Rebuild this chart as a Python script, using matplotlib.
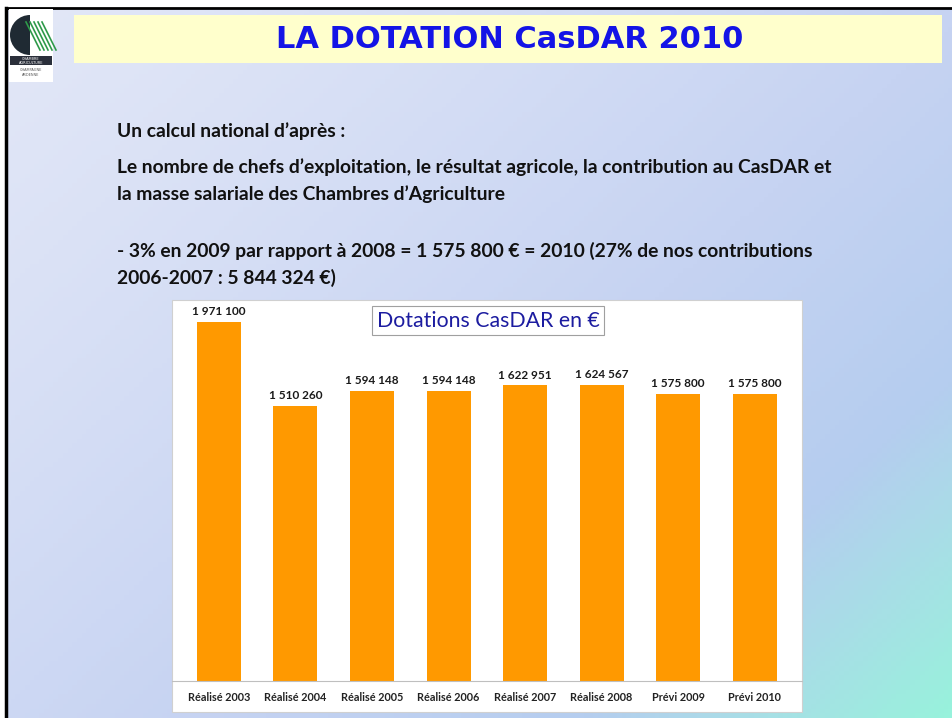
import numpy as np
import matplotlib
matplotlib.use("Agg")
import matplotlib.pyplot as plt
from matplotlib.colors import LinearSegmentedColormap
from matplotlib.patches import Rectangle, Wedge

# data
categories = ["Réalisé 2003", "Réalisé 2004", "Réalisé 2005", "Réalisé 2006",
              "Réalisé 2007", "Réalisé 2008", "Prévi 2009", "Prévi 2010"]
values = [1971100, 1510260, 1594148, 1594148, 1622951, 1624567, 1575800, 1575800]
value_labels = ["1 971 100", "1 510 260", "1 594 148", "1 594 148",
                "1 622 951", "1 624 567", "1 575 800", "1 575 800"]

title = "LA DOTATION CasDAR 2010"
chart_title = "Dotations CasDAR en €"
lines = [
    "Un calcul national d\u2019après :",
    "Le nombre de chefs d\u2019exploitation, le résultat agricole, la contribution au CasDAR et",
    "la masse salariale des Chambres d\u2019Agriculture",
    "- 3% en 2009 par rapport à 2008 = 1 575 800 € = 2010 (27% de nos contributions",
    "2006-2007 : 5 844 324 €)",
]
line_y = [131, 167, 194, 251, 278]

W, H = 953, 718
fig = plt.figure(figsize=(W / 100, H / 100), dpi=100)

# slide background (pixel coordinates)
bg = fig.add_axes([0, 0, 1, 1])
bg.set_xlim(0, W)
bg.set_ylim(H, 0)
bg.axis("off")

cmap = LinearSegmentedColormap.from_list(
    "slide", [(0, "#e2e7f7"), (0.5, "#c6d3f2"), (0.75, "#b5cdef"), (1, "#98f2dc")])
xx, yy = np.meshgrid(np.linspace(0, 1, 200), np.linspace(0, 1, 150))
grad = np.clip((0.55 * xx + 0.45 * yy) ** 1.2, 0, 1)
bg.imshow(grad, cmap=cmap, extent=(6, W, H, 8), aspect="auto", zorder=0)
bg.plot([6, W], [8, 8], color="black", lw=2, zorder=1)
bg.plot([6, 6], [8, H], color="black", lw=2.5, zorder=1)

# logo
bg.add_patch(Rectangle((9, 9), 44, 73, facecolor="white", edgecolor="none", zorder=2))
bg.add_patch(Wedge((30, 35), 20, 90, 270, facecolor="#1f2a33", zorder=3))
for k in range(5):
    bg.plot([26 + k * 4, 40 + k * 4], [22, 50], color="#2e9a4a", lw=1.2, zorder=3)
bg.add_patch(Rectangle((10, 56), 42, 9, facecolor="#2a2f3a", zorder=3))
bg.text(31, 58.5, "CHAMBRE", color="white", fontsize=2.5, ha="center", va="center", zorder=4)
bg.text(31, 62.5, "AGRICULTURE", color="white", fontsize=2.5, ha="center", va="center", zorder=4)
bg.text(31, 70, "CHAMPAGNE", color="#555555", fontsize=2.5, ha="center", va="center", zorder=4)
bg.text(31, 75, "ARDENNE", color="#555555", fontsize=2.5, ha="center", va="center", zorder=4)

# title band
bg.add_patch(Rectangle((74, 15), 868, 48, facecolor="#ffffcc", edgecolor="none", zorder=2))
bg.text(510, 39, title, color="#1414e6", fontsize=22, fontweight="bold",
        family="DejaVu Sans", ha="center", va="center", zorder=3)

for y, s in zip(line_y, lines):
    bg.text(117, y, s, color="#111111", fontsize=13.9, fontweight="bold",
            family="Lato", ha="left", va="center", zorder=3)

# chart frame
bg.add_patch(Rectangle((172, 300), 630, 412, facecolor="white",
                       edgecolor="#d0d0d0", lw=0.8, zorder=2))

ax = fig.add_axes([172 / W, 1 - 681 / H, 630 / W, 381 / H])
ax.patch.set_alpha(0)
x = np.arange(len(categories))
ax.bar(x, values, width=0.575, color="#ff9900", zorder=2)
ax.set_xlim(-0.614, 7.62)
ax.set_ylim(0, 2092000)
for s in ["top", "left", "right"]:
    ax.spines[s].set_visible(False)
ax.spines["bottom"].set_color("#bfbfbf")
ax.set_yticks([])
ax.set_xticks(x)
ax.set_xticklabels(categories, fontsize=7.8, family="Lato", fontweight="bold", color="#222222")
ax.tick_params(axis="x", length=0, pad=8)

for xi, v, lab in zip(x, values, value_labels):
    ax.annotate(lab, (xi, v), xytext=(0, 3.5), textcoords="offset points",
                ha="center", va="bottom", fontsize=8.5, family="Lato",
                fontweight="bold", color="#1a1a1a")

# chart title box centred near x=488 px
ax.text((488 - 172) / 630, 0.946, chart_title, transform=ax.transAxes, ha="center", va="center",
        fontsize=15.3, family="Lato", color="#1c1ca0",
        bbox=dict(boxstyle="square,pad=0.2", facecolor="white", edgecolor="#a0a0a0", lw=0.8))

fig.savefig("out.png", dpi=100)
